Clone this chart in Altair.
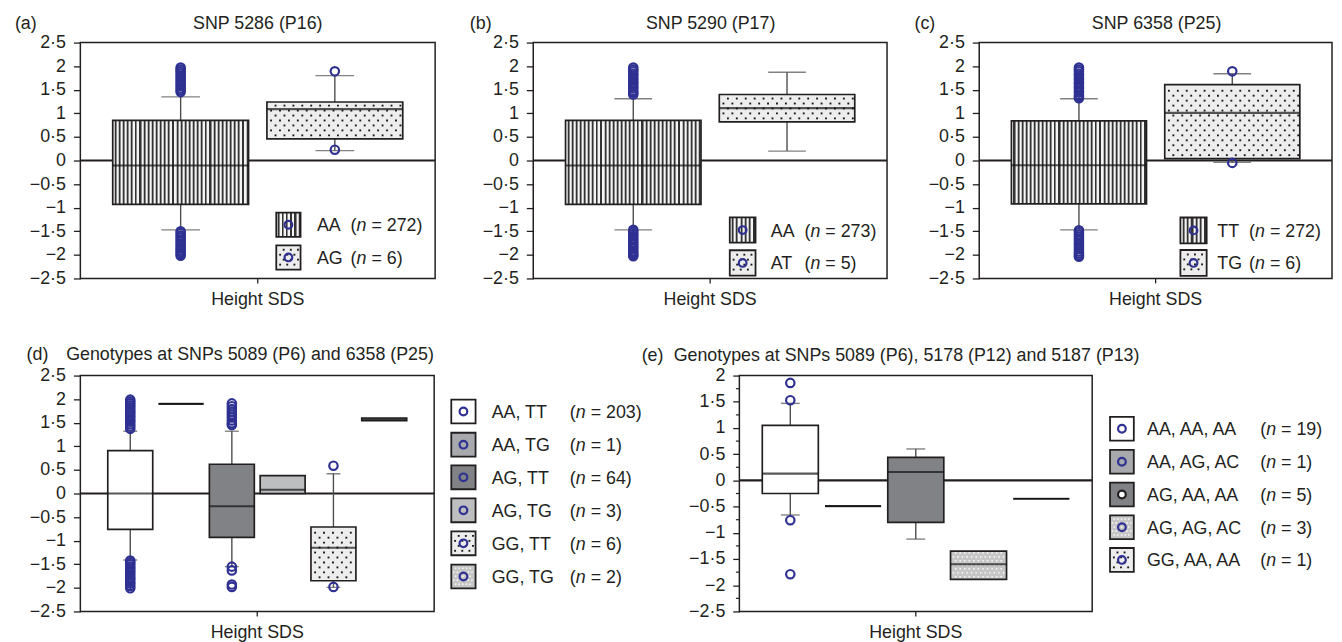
import altair as alt
import pandas as pd

FONT = "Liberation Sans"
INK = "#231f20"
WHISK = "#4d4d4d"
BLUE = "#2e3192"
FS = 18

# ---------------- data ----------------
# (a) SNP 5286 (P16)
a_groups = ["AA", "AG"]
a_n = [272, 6]
a_q1 = [-0.93, 0.46]
a_median = [-0.105, 1.09]
a_q3 = [0.85, 1.24]
a_low = [-1.47, 0.21]
a_high = [1.35, 1.80]
a_out_AA = [1.97, 1.93, 1.89, 1.85, 1.80, 1.76, 1.71, 1.67, 1.62, 1.58, 1.53, 1.49, 1.45,
            -1.50, -1.54, -1.59, -1.63, -1.68, -1.72, -1.77, -1.81, -1.86, -1.90, -1.94, -1.98, -2.02]
a_out_AG = [1.89, 0.23]

# (b) SNP 5290 (P17)
b_groups = ["AA", "AT"]
b_n = [273, 5]
b_q1 = [-0.93, 0.82]
b_median = [-0.105, 1.11]
b_q3 = [0.85, 1.40]
b_low = [-1.47, 0.20]
b_high = [1.31, 1.87]
b_out_AA = [1.97, 1.93, 1.89, 1.84, 1.80, 1.75, 1.71, 1.66, 1.62, 1.57, 1.53, 1.48, 1.44, 1.40,
            -1.47, -1.51, -1.56, -1.60, -1.65, -1.69, -1.74, -1.78, -1.83, -1.87, -1.92, -1.96, -2.00, -2.03]

# (c) SNP 6358 (P25)
c_groups = ["TT", "TG"]
c_n = [272, 6]
c_q1 = [-0.92, 0.04]
c_median = [-0.10, 1.01]
c_q3 = [0.84, 1.61]
c_low = [-1.47, -0.04]
c_high = [1.31, 1.84]
c_out_TT = [1.97, 1.93, 1.89, 1.84, 1.80, 1.75, 1.71, 1.66, 1.62, 1.57, 1.53, 1.48, 1.44, 1.39, 1.35, 1.32,
            -1.48, -1.52, -1.57, -1.61, -1.66, -1.70, -1.75, -1.79, -1.84, -1.88, -1.93, -1.97, -2.01, -2.04]
c_out_TG = [1.89, -0.05]

# (d) Genotypes at SNPs 5089 (P6) and 6358 (P25)
d_groups = ["AA, TT", "AA, TG", "AG, TT", "AG, TG", "GG, TT", "GG, TG"]
d_n = [203, 1, 64, 3, 6, 2]
d_q1 = [-0.76, 1.90, -0.93, 0.00, -1.85, 1.545]
d_median = [0.00, 1.90, -0.27, 0.08, -1.15, 1.57]
d_q3 = [0.91, 1.90, 0.62, 0.38, -0.71, 1.60]
d_low = [-1.41, None, -1.55, None, -1.99, None]
d_high = [1.32, None, 1.32, None, 0.42, None]
d_out_AATT = [1.99, 1.95, 1.91, 1.87, 1.83, 1.78, 1.74, 1.70, 1.65, 1.61, 1.56, 1.52, 1.47, 1.42, 1.37,
              -1.42, -1.46, -1.50, -1.55, -1.59, -1.64, -1.68, -1.73, -1.78, -1.82, -1.87, -1.91, -1.96, -2.01]
d_out_AGTT = [1.91, 1.85, 1.79, 1.73, 1.67, 1.61, 1.55, 1.49, 1.45, -1.55, -1.63, -1.93, -1.98]
d_out_GGTT = [0.59, -1.98]

# (e) Genotypes at SNPs 5089 (P6), 5178 (P12) and 5187 (P13)
e_groups = ["AA, AA, AA", "AA, AG, AC", "AG, AA, AA", "AG, AG, AC", "GG, AA, AA"]
e_n = [19, 1, 5, 3, 1]
e_q1 = [-0.25, -0.49, -0.80, -1.89, -0.35]
e_median = [0.13, -0.49, 0.16, -1.60, -0.35]
e_q3 = [1.05, -0.49, 0.44, -1.35, -0.35]
e_low = [-0.66, None, -1.12, None, None]
e_high = [1.47, None, 0.60, None, None]
e_out_AAAAAA = [1.86, 1.53, -0.76, -1.79]

ticks_full = [2.5, 2.0, 1.5, 1.0, 0.5, 0.0, -0.5, -1.0, -1.5, -2.0, -2.5]
ticks_e = [2.0, 1.5, 1.0, 0.5, 0.0, -0.5, -1.0, -1.5, -2.0, -2.5]
minor_e = [1.75, 1.25, 0.75, 0.25, -0.25, -0.75, -1.25, -1.75, -2.25]

# ---------------- styles ----------------
SOLID = {"white": "#ffffff", "dots": "#ededed", "fine": "#c6c6c6",
         "gray": "#a7a9ac", "dark": "#808285", "light": "#bcbec0"}
# dot textures: (dot colour, dx px, dy px, dot size)
DOTS = {"dots": ("#1a1a1a", 9.0, 5.0, 3.6), "fine": ("#f8f8f8", 4.6, 4.0, 2.4)}


def stripes(n):
    segs = [("#f4f4f4", 0.30), ("#c0c0c0", 0.20), ("#333333", 0.27), ("#888888", 0.23)]
    stops = []
    for k in range(n):
        pos = k / n
        for col, f in segs:
            end = min(pos + f / n, 1.0)
            stops.append(alt.GradientStop(offset=round(pos, 5), color=col))
            stops.append(alt.GradientStop(offset=round(end, 5), color=col))
            pos = end
    return alt.LinearGradient(gradient="linear", stops=stops, x1=0, x2=1, y1=0, y2=0)


def fill_of(kind, periods):
    return stripes(periods) if kind == "stripes" else SOLID[kind]


LABEL_EXPR = "replace(replace(format(datum.value, '~g'), '.', '\u00b7'), '-', '\u2212')"
ONE = pd.DataFrame({"k": [0]})


def txt(s, x, y, align="left", style="normal"):
    return alt.Chart(ONE).mark_text(text=s, font=FONT, fontSize=FS, color=INK, align=align,
                                    baseline="alphabetic", fontStyle=style).encode(
        x=alt.value(x), y=alt.value(y))


def legend_dots(kind, x0, x1, y0, y1):
    col, dx, dy, sz = DOTS[kind]
    dx = dx * 0.8
    return alt.Chart(ONE).transform_calculate(
        py="sequence(%f, %f, %f)" % (y0 + dy * 0.7, y1 - dy * 0.3, dy)
    ).transform_flatten(["py"]).transform_calculate(
        r="round((datum.py - %f) / %f)" % (y0, dy)
    ).transform_calculate(
        px="sequence(%f + (datum.r %% 2) * %f, %f, %f)" % (x0 + dx * 0.4, dx * 0.5, x1 - 1.5, dx)
    ).transform_flatten(["px"]).mark_square(size=sz, color=col, opacity=1).encode(
        x=alt.X("px:Q", scale=None), y=alt.Y("py:Q", scale=None))


def legend_layers(groups, ns, kinds, sw_x, sw_w, sw_h, centers, text_x, paren_x, dark_circle=None):
    out = []
    for i, g in enumerate(groups):
        c = centers[i]
        out.append(alt.Chart(ONE).mark_rect(fill=fill_of(kinds[i], 6), stroke=INK, strokeWidth=1.8).encode(
            x=alt.value(sw_x), x2=alt.value(sw_x + sw_w), y=alt.value(c - sw_h / 2), y2=alt.value(c + sw_h / 2)))
        if kinds[i] in DOTS:
            out.append(legend_dots(kinds[i], sw_x + 1, sw_x + sw_w - 1, c - sw_h / 2 + 1, c + sw_h / 2 - 1))
        if dark_circle == i:
            mk = alt.Chart(ONE).mark_point(shape="circle", filled=True, fill="white", stroke=INK,
                                           strokeWidth=2.2, size=60, opacity=1)
        else:
            mk = alt.Chart(ONE).mark_point(shape="circle", filled=False, stroke=BLUE, color=BLUE,
                                           strokeWidth=2.2, size=60, opacity=1)
        out.append(mk.encode(x=alt.value(sw_x + sw_w / 2), y=alt.value(c)))
        out.append(txt(g, text_x, c + 6.5))
        out.append(txt("(", paren_x, c + 6.5))
        out.append(txt("n", paren_x + 6, c + 6.5, style="italic"))
        out.append(txt("= %d)" % ns[i], paren_x + 21, c + 6.5))
    return out


def panel(groups, ns, q1, med, q3, low, high, outliers, kinds, *, W, H, ydom, yticks, pin, pout, cap,
          periods, tag, tag_dx, title, title_x, title_align, title_dy, spacer, legend, minor=None,
          major_tick=7):
    n = len(groups)
    step = W / (n - pin + 2 * pout)
    bw = step * (1 - pin)
    ppu = H / (ydom[1] - ydom[0])
    xs = alt.Scale(domain=groups, paddingInner=pin, paddingOuter=pout)
    ys = alt.Scale(domain=ydom, nice=False, zero=False)
    yaxis = alt.Axis(values=yticks, labelExpr=LABEL_EXPR, labelFont=FONT, labelFontSize=FS, labelColor=INK,
                     tickColor=INK, tickSize=major_tick, tickWidth=1.3, domain=False, grid=False, title=None,
                     labelPadding=8, labelOverlap=False, labelFlush=False, labelSeparation=0,
                     labelBound=False)
    X = alt.X("g:N", scale=xs, axis=None)

    def Y(f):
        return alt.Y(f, scale=ys, axis=yaxis)

    df = pd.DataFrame({"g": groups, "q1": q1, "med": med, "q3": q3, "low": low, "high": high})
    L, R, T, B = spacer
    layers = [alt.Chart(ONE).mark_rect(opacity=0).encode(
        x=alt.value(L), x2=alt.value(R), y=alt.value(T), y2=alt.value(B))]
    layers.append(alt.Chart(pd.DataFrame({"v": [0.0]})).mark_rule(color=INK, strokeWidth=2.2).encode(
        y=Y("v:Q")))
    if minor:
        layers.append(alt.Chart(pd.DataFrame({"v": minor})).mark_rule(color=INK, strokeWidth=1.2).encode(
            x=alt.value(-3.5), x2=alt.value(0), y=Y("v:Q")))
    wd = df.dropna(subset=["low", "high"])
    if len(wd):
        layers.append(alt.Chart(wd).mark_rule(color=WHISK, strokeWidth=1.4).encode(
            x=X, y=Y("low:Q"), y2="high:Q"))
        for col in ("low", "high"):
            layers.append(alt.Chart(wd).mark_tick(size=cap, thickness=1.4, color=WHISK).encode(
                x=X, y=Y(col + ":Q")))
    for i in range(n):
        layers.append(alt.Chart(df.iloc[[i]]).mark_bar(fill=fill_of(kinds[i], periods), stroke=INK,
                                                        strokeWidth=1.7, opacity=1).encode(
            x=X, y=Y("q1:Q"), y2="q3:Q"))
    # dot textures inside dotted boxes, derived from each box's quartiles
    for i in range(n):
        if kinds[i] not in DOTS or q3[i] - q1[i] < 0.1:
            continue
        col, dx, dy, sz = DOTS[kinds[i]]
        ystep = dy / ppu
        x0 = step * (pout + i) + 1.5
        x1 = x0 + bw - 3
        layers.append(
            alt.Chart(df.iloc[[i]]).transform_calculate(
                ys="sequence(datum.q1 + %f, datum.q3 - %f, %f)" % (ystep * 0.7, ystep * 0.3, ystep)
            ).transform_flatten(["ys"]).transform_calculate(
                r="round((datum.ys - datum.q1) / %f)" % ystep
            ).transform_calculate(
                px="sequence(%f + (datum.r %% 2) * %f, %f, %f)" % (x0 + dx * 0.3, dx * 0.5, x1, dx)
            ).transform_flatten(["px"]).mark_square(size=sz, color=col, opacity=1).encode(
                x=alt.X("px:Q", scale=None), y=Y("ys:Q")))
    layers.append(alt.Chart(df).mark_tick(size=bw, thickness=2.2, color="#111111").encode(
        x=X, y=Y("med:Q")))
    og, ov = [], []
    for g, vals in outliers.items():
        og += [g] * len(vals)
        ov += vals
    if ov:
        layers.append(alt.Chart(pd.DataFrame({"g": og, "v": ov})).mark_point(
            shape="circle", filled=False, stroke=BLUE, color=BLUE, strokeWidth=2.2, size=72, opacity=1).encode(
            x=X, y=Y("v:Q")))
    layers.append(alt.Chart(ONE).mark_rule(color=INK, strokeWidth=1.3).encode(
        x=alt.value(W / 2), y=alt.value(H), y2=alt.value(H + 5)))
    layers.append(txt(tag, tag_dx, title_dy))
    layers.append(txt(title, title_x, title_dy, align=title_align))
    layers.append(txt("Height SDS", W / 2, H + 26.5, align="center"))
    layers += legend_layers(groups, ns, kinds, **legend)
    return alt.layer(*layers).properties(width=W, height=H)


H = 238
pa = panel(a_groups, a_n, a_q1, a_median, a_q3, a_low, a_high, {"AA": a_out_AA, "AG": a_out_AG},
           ["stripes", "dots"], W=358, H=H, ydom=[-2.5, 2.5], yticks=ticks_full, pin=0.119, pout=0.21,
           cap=39, periods=33, tag="(a)", tag_dx=-66, title="SNP 5286 (P16)", title_x=179,
           title_align="center", title_dy=-14, spacer=(-66, 389, -31, H + 40),
           legend=dict(sw_x=197.7, sw_w=24.5, sw_h=24.5, centers=[183.8, 216.8], text_x=238.7, paren_x=272.7))
pb = panel(b_groups, b_n, b_q1, b_median, b_q3, b_low, b_high, {"AA": b_out_AA},
           ["stripes", "dots"], W=357, H=H, ydom=[-2.5, 2.5], yticks=ticks_full, pin=0.119, pout=0.21,
           cap=38, periods=33, tag="(b)", tag_dx=-64, title="SNP 5290 (P17)", title_x=179,
           title_align="center", title_dy=-14, spacer=(-66, 382, -31, H + 40),
           legend=dict(sw_x=198.3, sw_w=26, sw_h=25.5, centers=[189.2, 222.3], text_x=239.7, paren_x=273.7))
pc = panel(c_groups, c_n, c_q1, c_median, c_q3, c_low, c_high, {"TT": c_out_TT, "TG": c_out_TG},
           ["stripes", "dots"], W=356, H=H, ydom=[-2.5, 2.5], yticks=ticks_full, pin=0.119, pout=0.21,
           cap=38, periods=33, tag="(c)", tag_dx=-65.3, title="SNP 6358 (P25)", title_x=179,
           title_align="center", title_dy=-14, spacer=(-66, 357, -31, H + 40),
           legend=dict(sw_x=203, sw_w=26.5, sw_h=26, centers=[189.5, 222.3], text_x=240.3, paren_x=272.3))
pd_ = panel(d_groups, d_n, d_q1, d_median, d_q3, d_low, d_high,
            {"AA, TT": d_out_AATT, "AG, TT": d_out_AGTT, "GG, TT": d_out_GGTT},
            ["white", "gray", "dark", "light", "dots", "fine"], W=357, H=H, ydom=[-2.5, 2.5],
            yticks=ticks_full, pin=0.115, pout=0.54, cap=14, periods=12, tag="(d)", tag_dx=-54.3,
            title="Genotypes at SNPs 5089 (P6) and 6358 (P25)", title_x=-14.3, title_align="left",
            title_dy=-15.3, spacer=(-71.6, 572.6, -56, H + 34),
            legend=dict(sw_x=374.3, sw_w=24.5, sw_h=24, centers=[36.3, 69.7, 102.7, 136, 169.3, 202.7],
                        text_x=415.1, paren_x=493.9))
pe = panel(e_groups, e_n, e_q1, e_median, e_q3, e_low, e_high, {"AA, AA, AA": e_out_AAAAAA},
           ["white", "gray", "dark", "fine", "dots"], W=356, H=H, ydom=[-2.5, 2], yticks=ticks_e,
           pin=0.107, pout=0.365, cap=19, periods=12, tag="(e)", tag_dx=-98.6,
           title="Genotypes at SNPs 5089 (P6), 5178 (P12) and 5187 (P13)", title_x=-66.3, title_align="left",
           title_dy=-15, spacer=(-100, 592, -56, H + 34), minor=minor_e, major_tick=6.7,
           legend=dict(sw_x=374, sw_w=24, sw_h=24, centers=[53.7, 87, 120, 153, 186],
                       text_x=411.3, paren_x=525.6, dark_circle=2))

PAD = {"left": 0, "top": 0, "right": 0, "bottom": 0}
top = alt.hconcat(pa, pb, pc, spacing=0)
bottom = alt.hconcat(pd_, pe, spacing=-10)
chart = alt.vconcat(top, bottom, spacing=0).properties(
    padding=PAD, background="white"
).configure_view(stroke=INK, strokeWidth=1.5).configure_axis(labelOverlap=False, labelSeparation=0)

chart.save("out.html", embed_options={"renderer": "svg", "actions": False, "padding": PAD})
